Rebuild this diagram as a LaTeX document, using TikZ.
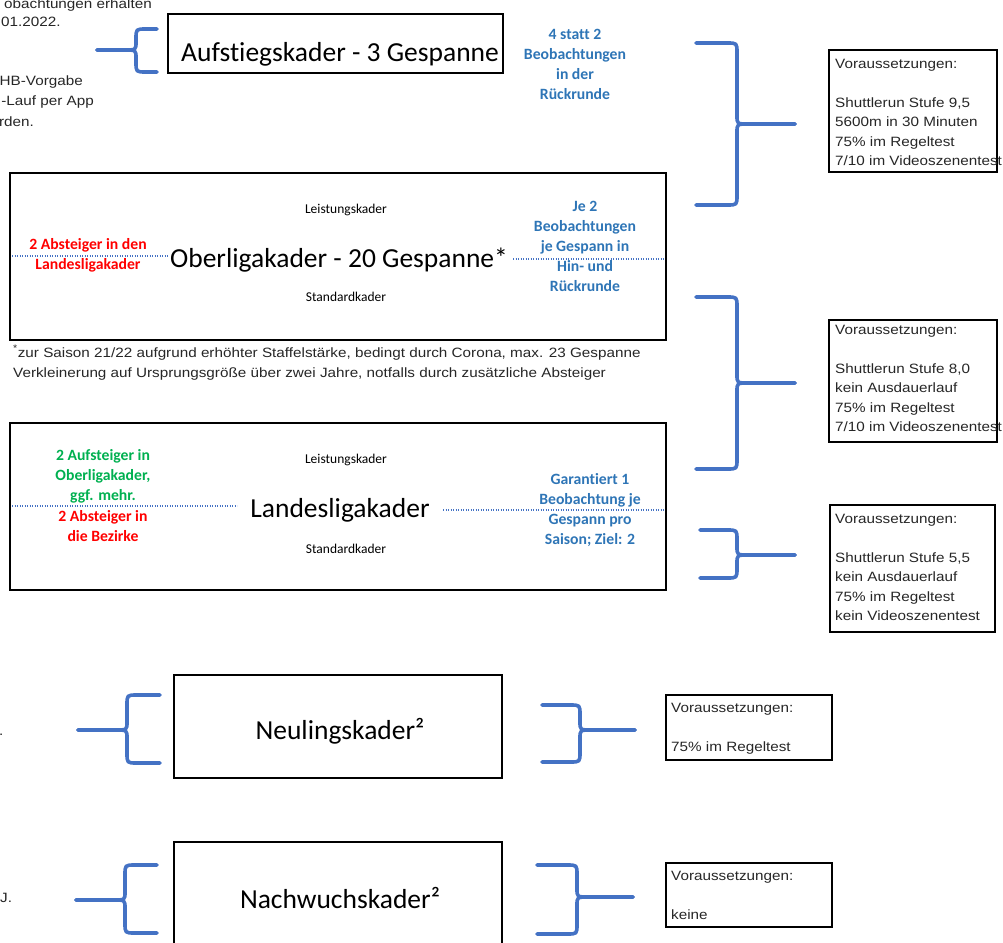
\documentclass[tikz,border=0pt]{standalone}
\usepackage{fontspec}
\setmainfont{Carlito}[Ligatures=NoCommon]
\newfontfamily\pixfont{Liberation Sans}[FakeStretch=1.13]
\definecolor{braceblue}{HTML}{4472C4}
\definecolor{txtblue}{HTML}{2E75B6}
\definecolor{txtred}{HTML}{FF0000}
\definecolor{txtgreen}{HTML}{00B050}
\newcommand\myRbrace[6]{%
 \draw[bracestyle] (#1,#4) -- ({#2-10},#4) .. controls (#2,#4) .. (#2,{#4+10}) -- (#2,{#5-8}) .. controls (#2,#5) .. ({#2+12},#5) -- (#3,#5);
 \draw[bracestyle] (#3,#5) -- ({#2+12},#5) .. controls (#2,#5) .. (#2,{#5+8}) -- (#2,{#6-10}) .. controls (#2,#6) .. ({#2-10},#6) -- (#1,#6);}
\newcommand\myLbrace[6]{%
 \draw[bracestyle] (#3,#4) -- ({#2+10},#4) .. controls (#2,#4) .. (#2,{#4+10}) -- (#2,{#5-8}) .. controls (#2,#5) .. ({#2-12},#5) -- (#1,#5);
 \draw[bracestyle] (#1,#5) -- ({#2-12},#5) .. controls (#2,#5) .. (#2,{#5+8}) -- (#2,{#6-10}) .. controls (#2,#6) .. ({#2+10},#6) -- (#3,#6);}
\begin{document}
\begin{tikzpicture}[x=1pt,y=-1pt,
  bracestyle/.style={draw=braceblue,line width=3.6pt,line cap=round,line join=round},
  kbox/.style={draw=black,line width=2.6pt,inner sep=0pt},
  vbox/.style={draw=black,line width=2.4pt,inner sep=0pt},
  title/.style={font=\fontsize{27.5}{30}\selectfont,inner sep=0pt},
  sub/.style={font=\fontsize{13.5}{16}\selectfont,inner sep=0pt},
  note/.style={font=\bfseries\fontsize{15.7}{20}\selectfont,align=center,inner sep=0pt},
  pix/.style={font=\pixfont\fontsize{13.5}{19.5}\selectfont,align=left,inner sep=0pt,text=black!85},
  dotl/.style={draw=braceblue,line width=1.2pt,dash pattern=on 1.2pt off 1.3pt}]
\useasboundingbox (0,0) rectangle (1003,942);
\clip (0,0) rectangle (1003,942);
% partial texts on the left
\node[pix,anchor=base east] (l1) at (152,9) {obachtungen erhalten};
\node[pix,anchor=base west] (l2) at (1,27) {01.2022.};
\node[pix,anchor=base east] (l3) at (83,85) {HB-Vorgabe};
\node[pix,anchor=base east] (l4) at (94,105) {-Lauf per App};
\node[pix,anchor=base east] (l5) at (34,126) {rden.};
\node[pix,anchor=base west] (l6) at (-1,735) {.};
\node[pix,anchor=base west] (l7) at (0,902) {J.};
% main boxes
\node[kbox,minimum width=335,minimum height=59] (auf) at (335.5,43.5) {};
\node[title] (auft) at (340,54) {Aufstiegskader - 3 Gespanne};
\node[note,text=txtblue] (aufn) at (575,64.5) {4 statt 2\\Beobachtungen\\in der\\Rückrunde};
\node[kbox,minimum width=656,minimum height=167] (ob) at (338,256.5) {};
\node[sub] (obl) at (346,210) {Leistungskader};
\node[title] (obt) at (339,260) {Oberligakader - 20 Gespanne*};
\node[sub] (obs) at (346,297) {Standardkader};
\node[note,text=txtred] (obr) at (88,255.5) {2 Absteiger in den\\Landesligakader};
\node[note,text=txtblue] (obb) at (585,246) {Je 2\\Beobachtungen\\je Gespann in\\Hin- und\\Rückrunde};
\coordinate (obdl) at (12,256);
\coordinate (obdl2) at (168,256);
\coordinate (obdr) at (513,259);
\coordinate (obdr2) at (664,259);
\draw[dotl] (obdl) -- (obdl2);
\draw[dotl] (obdr) -- (obdr2);
\node[pix,anchor=base west] (fn1) at (13,357) {\textsuperscript{*}zur Saison 21/22 aufgrund erhöhter Staffelstärke, bedingt durch Corona, max. 23 Gespanne};
\node[pix,anchor=base west] (fn2) at (13,377) {Verkleinerung auf Ursprungsgröße über zwei Jahre, notfalls durch zusätzliche Absteiger};
\node[kbox,minimum width=656,minimum height=167] (la) at (338,506.5) {};
\node[sub] (lal) at (346,460) {Leistungskader};
\node[title] (lat) at (340,510) {Landesligakader};
\node[sub] (las) at (346,549) {Standardkader};
\node[note,text=txtgreen] (lag) at (103,476.5) {2 Aufsteiger in\\Oberligakader,\\ggf. mehr.};
\node[note,text=txtred] (lar) at (103,526.5) {2 Absteiger in\\die Bezirke};
\node[note,text=txtblue] (lab) at (590,510) {Garantiert 1\\Beobachtung je\\Gespann pro\\Saison; Ziel: 2};
\coordinate (ladl) at (12,506);
\coordinate (ladl2) at (237,506);
\coordinate (ladr) at (443,510);
\coordinate (ladr2) at (664,510);
\draw[dotl] (ladl) -- (ladl2);
\draw[dotl] (ladr) -- (ladr2);
\node[kbox,minimum width=328,minimum height=103] (neu) at (338,726.5) {};
\node[title] (neut) at (340,731) {Neulingskader²};
\node[kbox,minimum width=328,minimum height=102] (nach) at (338,893) {};
\node[title] (nacht) at (340,898) {Nachwuchskader²};
% Voraussetzungen boxes
\node[vbox,minimum width=168,minimum height=122] (v1) at (913,111) {};
\node[pix,anchor=north west] (v1t) at (835,59) {Voraussetzungen:\\[19.5pt]Shuttlerun Stufe 9,5\\5600m in 30 Minuten\\75\% im Regeltest\\7/10 im Videoszenentest};
\node[vbox,minimum width=168,minimum height=122] (v2) at (913,381) {};
\node[pix,anchor=north west] (v2t) at (835,325) {Voraussetzungen:\\[19.5pt]Shuttlerun Stufe 8,0\\kein Ausdauerlauf\\75\% im Regeltest\\7/10 im Videoszenentest};
\node[vbox,minimum width=165,minimum height=127] (v3) at (912.5,568.5) {};
\node[pix,anchor=north west] (v3t) at (835,514) {Voraussetzungen:\\[19.5pt]Shuttlerun Stufe 5,5\\kein Ausdauerlauf\\75\% im Regeltest\\kein Videoszenentest};
\node[vbox,minimum width=166,minimum height=65] (v4) at (749,727.5) {};
\node[pix,anchor=north west] (v4t) at (671,703) {Voraussetzungen:\\[19.5pt]75\% im Regeltest};
\node[vbox,minimum width=166,minimum height=64] (v5) at (749,895) {};
\node[pix,anchor=north west] (v5t) at (671,871) {Voraussetzungen:\\[19.5pt]keine};
% braces
\myLbrace{97}{136}{157}{29}{50}{72}
\myRbrace{696}{737}{795}{43}{124}{205}
\myRbrace{696}{737}{795}{297}{383}{469}
\myRbrace{700}{737}{795}{530}{555}{578}
\myLbrace{78}{127}{160}{695}{730}{763}
\myRbrace{542}{580}{635}{705}{730}{762}
\myLbrace{76}{125}{157}{865}{900}{933}
\myRbrace{537}{577}{633}{865}{897}{934}
\end{tikzpicture}
\end{document}
